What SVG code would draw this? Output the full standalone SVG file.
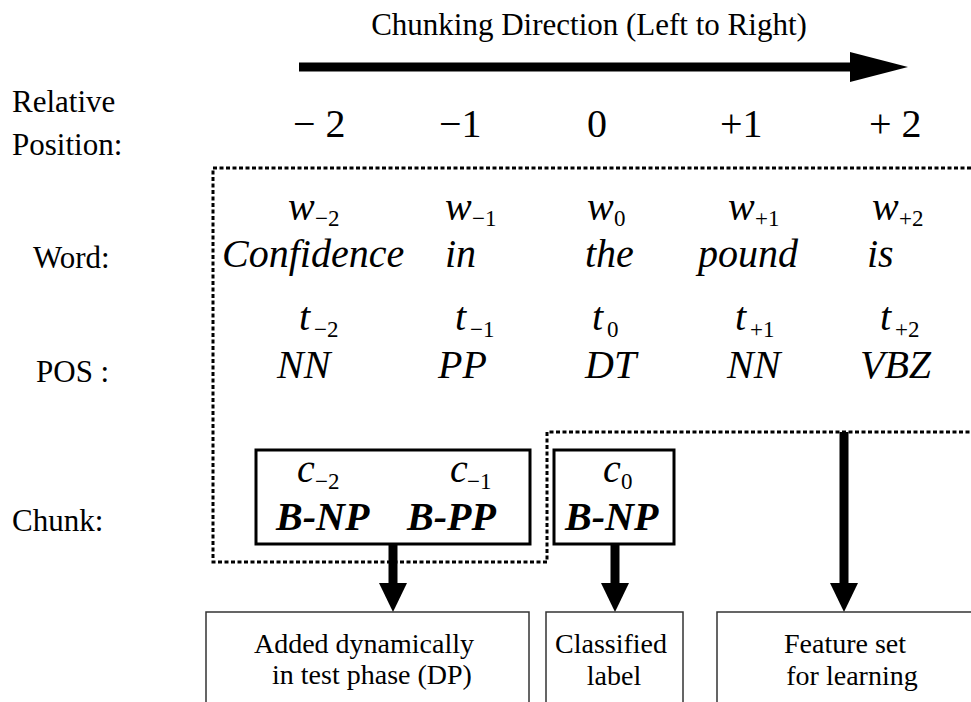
<svg xmlns="http://www.w3.org/2000/svg" width="971" height="702" viewBox="0 0 971 702">
<style>
text{font-family:"Liberation Serif","Times New Roman",Tinos,"Noto Serif","DejaVu Serif",serif;fill:#000}
.lbl{font-size:31px}
.num{font-size:40px}
.var{font-size:40px;font-style:italic}
.sub{font-size:23px}
.word{font-size:40px;font-style:italic}
.chunk{font-size:40px;font-style:italic;font-weight:bold}
.note{font-size:28px}
.dot{fill:none;stroke:#000;stroke-width:3;stroke-dasharray:4 2.5}
.cbox{fill:#fff;stroke:#000;stroke-width:3}
.obox{fill:#fff;stroke:#333;stroke-width:1.5}
.shaft{stroke:#000;stroke-width:9;fill:none}
.head{fill:#000}
</style>
<rect width="971" height="702" fill="#fff"/>
<g id="title">
<text class="lbl" x="589" y="35" text-anchor="middle">Chunking Direction (Left to Right)</text>
</g>
<g id="direction-arrow">
<line class="shaft" x1="299" y1="67" x2="852" y2="67"/>
<polygon class="head" points="850,52 908,67 850,82"/>
</g>
<g id="row-labels">
<text class="lbl" x="12" y="112">Relative</text>
<text class="lbl" x="12" y="155">Position:</text>
<text class="lbl" x="33" y="268">Word:</text>
<text class="lbl" x="36" y="382">POS :</text>
<text class="lbl" x="12" y="531">Chunk:</text>
</g>
<g id="positions">
<text class="num" x="293" y="137">− 2</text>
<text class="num" x="439" y="137">−1</text>
<text class="num" x="587" y="137">0</text>
<text class="num" x="720" y="137">+1</text>
<text class="num" x="869" y="137">+ 2</text>
</g>
<g id="feature-window">
<path class="dot" d="M971,168 H213 V562 H547 V432 H971"/>
</g>
<g id="words">
<text class="var" x="288" y="220">w</text><text class="sub" x="315" y="226">−2</text>
<text class="var" x="445" y="220">w</text><text class="sub" x="472" y="226">−1</text>
<text class="var" x="587" y="220">w</text><text class="sub" x="614" y="226">0</text>
<text class="var" x="728" y="220">w</text><text class="sub" x="755" y="226">+1</text>
<text class="var" x="872" y="220">w</text><text class="sub" x="899" y="226">+2</text>
<text class="word" x="222" y="267">Confidence</text>
<text class="word" x="445" y="267">in</text>
<text class="word" x="585" y="267">the</text>
<text class="word" x="698" y="267">pound</text>
<text class="word" x="867" y="267">is</text>
</g>
<g id="pos-tags">
<text class="var" x="299" y="330">t</text><text class="sub" x="314" y="337">−2</text>
<text class="var" x="455" y="330">t</text><text class="sub" x="470" y="337">−1</text>
<text class="var" x="592" y="330">t</text><text class="sub" x="607" y="337">0</text>
<text class="var" x="735" y="330">t</text><text class="sub" x="750" y="337">+1</text>
<text class="var" x="880" y="330">t</text><text class="sub" x="895" y="337">+2</text>
<text class="word" x="277" y="378">NN</text>
<text class="word" x="438" y="378">PP</text>
<text class="word" x="585" y="378">DT</text>
<text class="word" x="727" y="378">NN</text>
<text class="word" x="860" y="378">VBZ</text>
</g>
<g id="context-chunks">
<rect class="cbox" x="256" y="450" width="274" height="94"/>
<text class="var" x="297" y="482">c</text><text class="sub" x="315" y="489">−2</text>
<text class="var" x="450" y="482">c</text><text class="sub" x="467" y="489">−1</text>
<text class="chunk" x="276" y="530">B-NP</text>
<text class="chunk" x="407" y="530">B-PP</text>
</g>
<g id="current-chunk">
<rect class="cbox" x="554" y="450" width="120" height="94"/>
<text class="var" x="603" y="482">c</text><text class="sub" x="621" y="489">0</text>
<text class="chunk" x="565" y="530">B-NP</text>
</g>
<g id="connectors">
<line class="shaft" x1="393" y1="544" x2="393" y2="585"/>
<polygon class="head" points="379,583 407,583 393,612"/>
<line class="shaft" x1="615" y1="544" x2="615" y2="585"/>
<polygon class="head" points="601,583 629,583 615,612"/>
<line class="shaft" x1="844" y1="432" x2="844" y2="585"/>
<polygon class="head" points="830,583 858,583 844,612"/>
</g>
<g id="dp-box">
<rect class="obox" x="206" y="612" width="323" height="100"/>
<text class="note" x="364" y="653" text-anchor="middle">Added dynamically</text>
<text class="note" x="372" y="684" text-anchor="middle">in test phase (DP)</text>
</g>
<g id="label-box">
<rect class="obox" x="546" y="612" width="137" height="100"/>
<text class="note" x="611" y="653" text-anchor="middle">Classified</text>
<text class="note" x="614" y="685" text-anchor="middle">label</text>
</g>
<g id="feature-box">
<rect class="obox" x="717" y="612" width="270" height="100"/>
<text class="note" x="845" y="653" text-anchor="middle">Feature set</text>
<text class="note" x="852" y="685" text-anchor="middle">for learning</text>
</g>
</svg>
